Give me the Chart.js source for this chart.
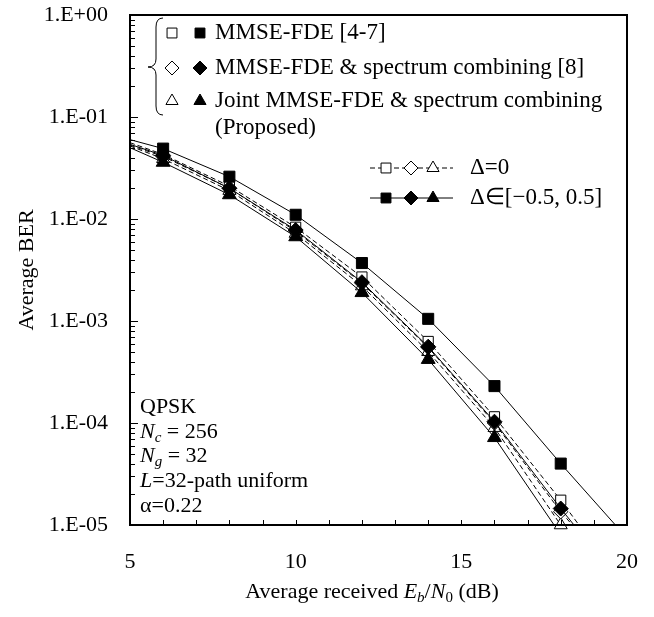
<!DOCTYPE html>
<html>
<head>
<meta charset="utf-8">
<script src="https://cdn.jsdelivr.net/npm/chart.js@4/dist/chart.umd.min.js"></script>
<style>
  html, body { margin: 0; padding: 0; background: #fff; }
</style>
</head>
<body>
<canvas id="berchart" width="654" height="617"></canvas>
<script>
// Eb/N0 points where markers were simulated
const snr = [6, 8, 10, 12, 14, 16, 18];

// delta in [-0.5, 0.5] (filled markers, solid lines)
const mmseFdeRand   = [4.9e-2, 2.6e-2, 1.1e-2, 3.7e-3, 1.05e-3, 2.3e-4, 4.0e-5];
const specCombRand  = [4.2e-2, 2.0e-2, 7.8e-3, 2.4e-3, 5.6e-4, 1.03e-4, 1.45e-5];
const jointRand     = [3.6e-2, 1.73e-2, 6.7e-3, 1.9e-3, 4.2e-4, 7.2e-5, null];
// delta = 0 (open markers, dashed lines)
const mmseFdeZero   = [4.3e-2, 2.1e-2, 8.3e-3, 2.7e-3, 6.3e-4, 1.15e-4, 1.75e-5];
const specCombZero  = [4.1e-2, 2.0e-2, 7.6e-3, 2.35e-3, 5.5e-4, 1.0e-4, 1.35e-5];
const jointZero     = [3.9e-2, 1.9e-2, 7.2e-3, 2.2e-3, 5.0e-4, 9.0e-5, 1.0e-5];

// where each curve enters at the left edge and leaves through the bottom edge
const lineStart = [6.0e-2, 5.4e-2, 5.0e-2, 5.6e-2, 5.3e-2, 5.2e-2];
const lineEndX  = [19.65, 18.4, 17.8, 18.55, 18.35, 18.0];

const xTickValues = [5, 10, 15, 20];
const yTickValues = [1e-5, 1e-4, 1e-3, 1e-2, 1e-1, 1];
const yTickLabels = ['1.E-05', '1.E-04', '1.E-03', '1.E-02', '1.E-01', '1.E+00'];

const serif = '"Liberation Serif", "Times New Roman", serif';
const FS = 22;   // axis text
const LS = 23;   // legend / note text

function curve(vals, i) {
  const pts = [{ x: 5, y: lineStart[i], m: false }];
  snr.forEach((x, k) => { if (vals[k] != null) pts.push({ x: x, y: vals[k], m: true }); });
  const last = pts[pts.length - 1];
  if (last.x !== lineEndX[i]) pts.push({ x: lineEndX[i], y: 1e-5, m: false });
  return pts;
}

function series(vals, i, style, filled, r) {
  return {
    data: curve(vals, i),
    borderColor: '#000',
    borderWidth: 1,
    borderDash: filled ? [] : [5, 3],
    pointStyle: style,
    pointRadius: c => (c.raw && c.raw.m ? r : 0),
    pointBackgroundColor: filled ? '#000' : '#fff',
    pointBorderColor: '#000',
    pointBorderWidth: 1,
    tension: 0,
    clip: false,
    order: filled ? 1 : 2
  };
}

const datasets = [
  series(mmseFdeRand, 0, 'rect', true, 7.8),
  series(specCombRand, 1, 'rectRot', true, 7.5),
  series(jointRand, 2, 'triangle', true, 8),
  series(mmseFdeZero, 3, 'rect', false, 7.2),
  series(specCombZero, 4, 'rectRot', false, 7.2),
  series(jointZero, 5, 'triangle', false, 7.5)
];

// box frame plus inward minor ticks
const frameTicks = {
  id: 'frameTicks',
  afterDraw(chart) {
    const { ctx, chartArea: a, scales: { x, y } } = chart;
    ctx.save();
    ctx.strokeStyle = '#000';
    ctx.lineWidth = 1;
    ctx.beginPath();
    for (let v = 6; v < 20; v++) {
      const px = Math.round(x.getPixelForValue(v)) + 0.5;
      ctx.moveTo(px, a.bottom);
      ctx.lineTo(px, a.bottom - 5);
    }
    for (let e = -5; e < 0; e++) {
      for (let m = 1; m <= 9; m++) {
        const v = m * Math.pow(10, e);
        const py = Math.round(y.getPixelForValue(v)) + 0.5;
        ctx.moveTo(a.left, py);
        ctx.lineTo(a.left + (m === 1 ? 8 : 5), py);
      }
    }
    ctx.stroke();
    ctx.lineWidth = 2;
    ctx.strokeRect(a.left, a.top, a.right - a.left, a.bottom - a.top);
    ctx.restore();
  }
};

function drawRich(ctx, parts, x, y, align, size) {
  // parts: [text, italic, sub]
  let total = 0;
  const fonts = parts.map(p => (p[1] ? 'italic ' : '') + (p[2] ? Math.round(size * 0.7) : size) + 'px ' + serif);
  parts.forEach((p, i) => { ctx.font = fonts[i]; total += ctx.measureText(p[0]).width; });
  let cx = align === 'center' ? x - total / 2 : x;
  ctx.textAlign = 'left';
  ctx.textBaseline = 'middle';
  parts.forEach((p, i) => {
    ctx.font = fonts[i];
    ctx.fillText(p[0], cx, p[2] ? y + 6 : y);
    cx += ctx.measureText(p[0]).width;
  });
}

const annotations = {
  id: 'annotations',
  afterDraw(chart) {
    const { ctx } = chart;
    const H = Chart.helpers;
    ctx.save();
    ctx.fillStyle = '#000';
    ctx.strokeStyle = '#000';

    // x axis title
    drawRich(ctx, [['Average received ', false, false], ['E', true, false], ['b', true, true],
      ['/', false, false], ['N', true, false], ['0', false, true], [' (dB)', false, false]], 372, 592, 'center', FS);

    // top legend with brace
    ctx.lineWidth = 1;
    ctx.beginPath();
    ctx.moveTo(163, 18);
    ctx.quadraticCurveTo(156, 18, 156, 27);
    ctx.lineTo(156, 59);
    ctx.quadraticCurveTo(156, 67, 148, 67);
    ctx.quadraticCurveTo(156, 67, 156, 75);
    ctx.lineTo(156, 106);
    ctx.quadraticCurveTo(156, 115, 163, 115);
    ctx.stroke();

    const rows = [[33, 'rect', 'MMSE-FDE [4-7]'],
                  [68, 'rectRot', 'MMSE-FDE & spectrum combining [8]'],
                  [101, 'triangle', 'Joint MMSE-FDE & spectrum combining']];
    rows.forEach(([ry, st, label]) => {
      ctx.fillStyle = '#fff';
      H.drawPoint(ctx, { pointStyle: st, radius: 7, rotation: 0, borderWidth: 1 }, 172, ry);
      ctx.fillStyle = '#000';
      H.drawPoint(ctx, { pointStyle: st, radius: 7, rotation: 0, borderWidth: 1 }, 200, ry);
      drawRich(ctx, [[label, false, false]], 215, ry, 'left', LS);
    });
    drawRich(ctx, [['(Proposed)', false, false]], 215, 128, 'left', LS);

    // second legend (line styles)
    [[168, false, '\u0394=0'], [198, true, '\u0394\u2208[\u22120.5, 0.5]']].forEach(([ry, filled, label]) => {
      ctx.beginPath();
      ctx.lineWidth = 1;
      ctx.setLineDash(filled ? [] : [5, 3]);
      ctx.moveTo(370, ry);
      ctx.lineTo(453, ry);
      ctx.stroke();
      ctx.setLineDash([]);
      ctx.fillStyle = filled ? '#000' : '#fff';
      H.drawPoint(ctx, { pointStyle: 'rect', radius: 7, rotation: 0, borderWidth: 1 }, 386, ry);
      H.drawPoint(ctx, { pointStyle: 'rectRot', radius: 7, rotation: 0, borderWidth: 1 }, 411, ry);
      H.drawPoint(ctx, { pointStyle: 'triangle', radius: 7, rotation: 0, borderWidth: 1 }, 433, ry);
      ctx.fillStyle = '#000';
      drawRich(ctx, [[label, false, false]], 470, ry, 'left', LS);
    });

    // simulation conditions
    drawRich(ctx, [['QPSK', false, false]], 140, 407, 'left', FS);
    drawRich(ctx, [['N', true, false], ['c', true, true], [' = 256', false, false]], 140, 432, 'left', FS);
    drawRich(ctx, [['N', true, false], ['g', true, true], [' = 32', false, false]], 140, 456, 'left', FS);
    drawRich(ctx, [['L', true, false], ['=32-path uniform', false, false]], 140, 481, 'left', FS);
    drawRich(ctx, [['\u03b1=0.22', false, false]], 140, 506, 'left', FS);
    ctx.restore();
  }
};

new Chart(document.getElementById('berchart'), {
  type: 'line',
  data: { datasets: datasets },
  options: {
    responsive: false,
    animation: false,
    layout: { padding: { top: 15, right: 27, left: 0, bottom: 0 } },
    plugins: { legend: { display: false }, tooltip: { enabled: false } },
    scales: {
      x: {
        type: 'linear',
        min: 5,
        max: 20,
        afterBuildTicks: s => { s.ticks = xTickValues.map(v => ({ value: v })); },
        ticks: { color: '#000', font: { family: serif, size: FS }, padding: 24, maxRotation: 0 },
        grid: { display: false, drawTicks: false },
        border: { display: false },
        afterFit: s => { s.height = 92; s.paddingLeft = 0; s.paddingRight = 0; }
      },
      y: {
        type: 'logarithmic',
        min: 1e-5,
        max: 1,
        afterBuildTicks: s => { s.ticks = yTickValues.map(v => ({ value: v })); },
        ticks: {
          color: '#000',
          font: { family: serif, size: FS },
          padding: 22,
          callback: v => yTickLabels[yTickValues.indexOf(v)]
        },
        grid: { display: false, drawTicks: false },
        border: { display: false },
        title: {
          display: true,
          text: 'Average BER',
          color: '#000',
          font: { family: serif, size: FS },
          padding: { top: 14, bottom: 0 }
        },
        afterFit: s => { s.width = 130; s.paddingTop = 0; s.paddingBottom = 0; }
      }
    }
  },
  plugins: [frameTicks, annotations]
});
</script>
</body>
</html>
